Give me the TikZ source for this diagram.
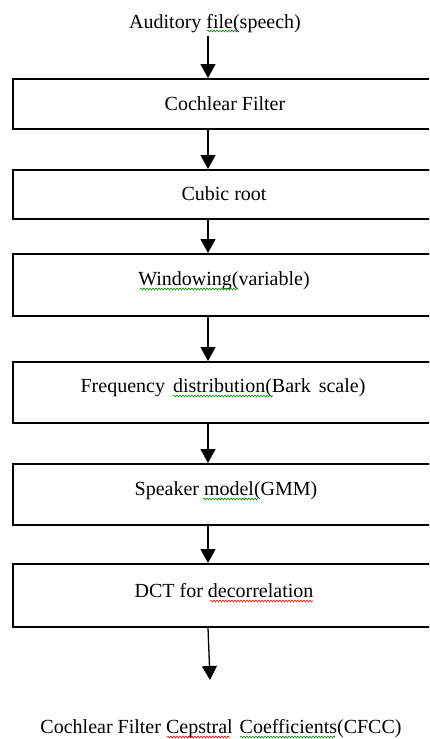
\documentclass[tikz,border=0pt]{standalone}
\usepackage{fontspec}
\setmainfont{Liberation Serif}
\usetikzlibrary{arrows.meta,decorations.pathmorphing}
\begin{document}
\begin{tikzpicture}[x=1pt,y=-1pt,
  box/.style={draw,line width=1.6pt,rectangle,minimum width=424pt,anchor=north west,inner sep=0pt},
  lbl/.style={anchor=base,inner sep=0pt,font=\fontsize{20}{24}\selectfont},
  arr/.style={-{Triangle[length=14pt,width=15pt]},line width=1.3pt},
  squig/.style={decorate,decoration={snake,amplitude=0.9pt,segment length=3pt},line width=0.6pt}]
\useasboundingbox (0,0) rectangle (429,739);
\clip (0,0) rectangle (429,739);
\fill[white] (0,0) rectangle (429,739);
\coordinate (ax) at (208,0);
% boxes
\node[box,minimum height=50pt] (b1) at (12,78) {};
\node[box,minimum height=49pt] (b2) at (12,169) {};
\node[box,minimum height=62pt] (b3) at (12,253) {};
\node[box,minimum height=61pt] (b4) at (12,361) {};
\node[box,minimum height=61pt] (b5) at (12,463) {};
\node[box,minimum height=63pt] (b6) at (12,563) {};
% texts
\node[lbl] (t0) at (215,28) {Auditory file(speech)};
\node[lbl] (t1) at (225,110) {Cochlear Filter};
\node[lbl] (t2) at (224,200) {Cubic root};
\node[lbl] (t3) at (224,285) {Windowing(variable)};
\node[lbl] (t4) at (223,392) {Frequency\hspace{3pt} distribution(Bark\hspace{3pt} scale)};
\node[lbl] (t5) at (226,495) {Speaker model(GMM)};
\node[lbl] (t6) at (224,597) {DCT for decorrelation};
\node[lbl] (t7) at (221,733) {Cochlear Filter Cepstral\hspace{2pt} Coefficients(CFCC)};
\coordinate (end) at (210,680);
% arrows
\draw[arr] ([yshift=-3pt]t0.south -| ax) -- (b1.north -| ax);
\draw[arr] (b1.south -| ax) -- (b2.north -| ax);
\draw[arr] (b2.south -| ax) -- (b3.north -| ax);
\draw[arr] (b3.south -| ax) -- (b4.north -| ax);
\draw[arr] (b4.south -| ax) -- (b5.north -| ax);
\draw[arr] (b5.south -| ax) -- (b6.north -| ax);
\draw[arr] (b6.south -| ax) -- (end);
% spell-check squiggles
\draw[squig,green!55!black] (207,31) -- (238,31);
\draw[squig,green!55!black] (140,289) -- (238,289);
\draw[squig,green!55!black] (173,396) -- (273,396);
\draw[squig,green!55!black] (203,499) -- (258,499);
\draw[squig,red] (210,601) -- (313,601);
\draw[squig,red] (167,737) -- (230,737);
\draw[squig,green!55!black] (240,737) -- (335,737);
\end{tikzpicture}
\end{document}
